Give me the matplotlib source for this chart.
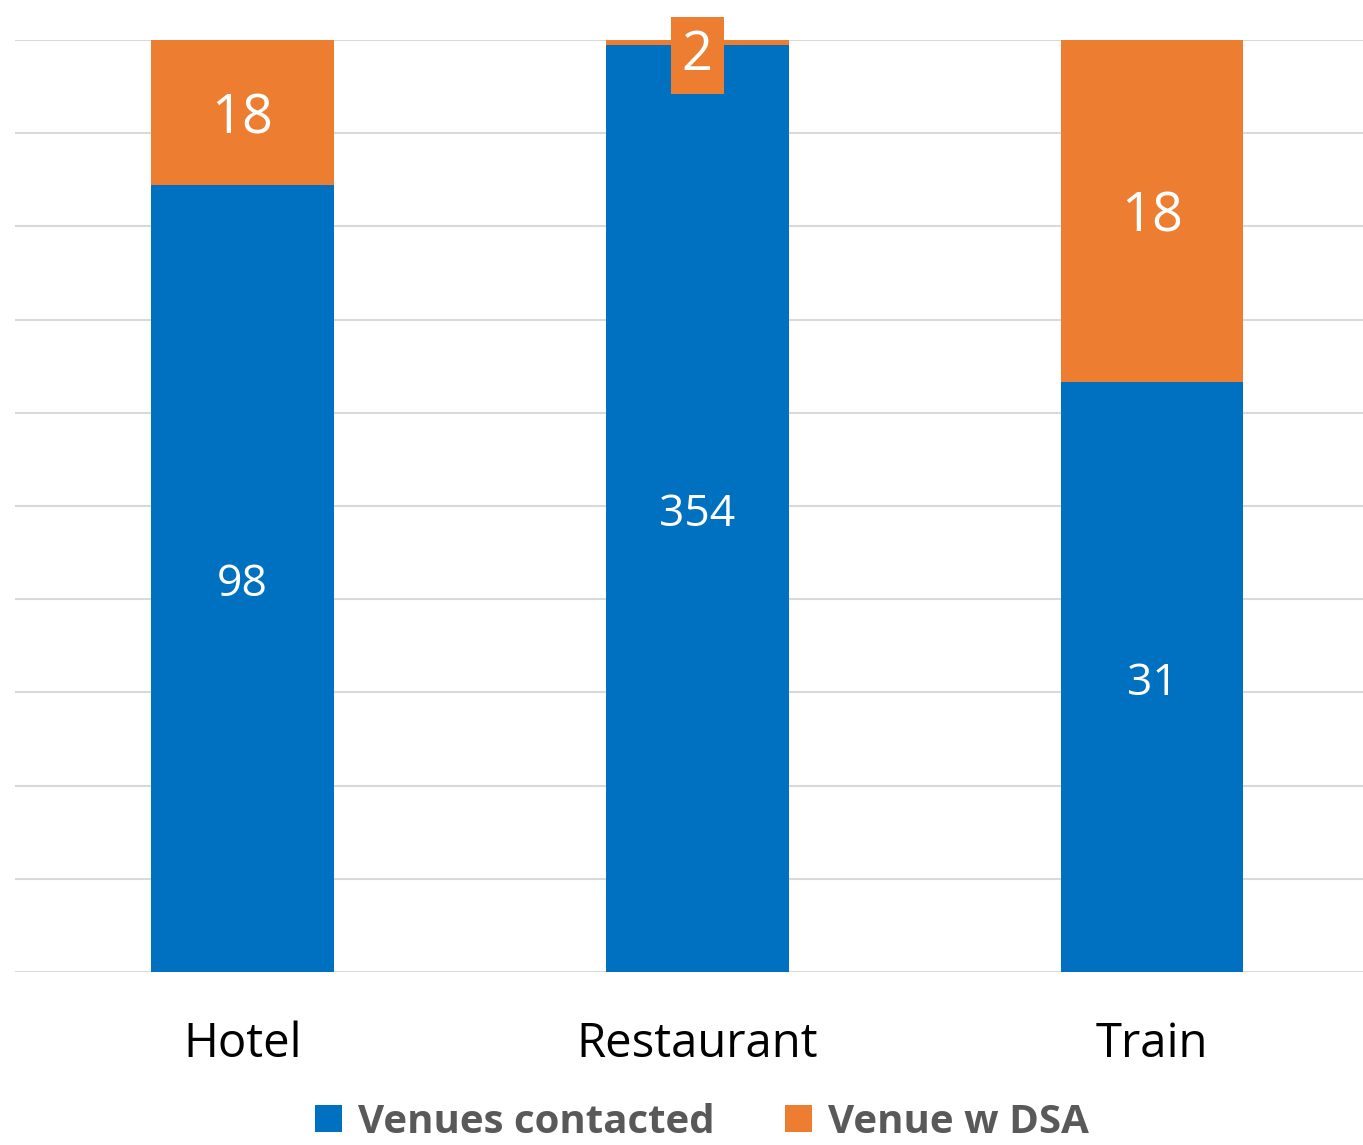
import matplotlib.pyplot as plt
import numpy as np

plt.rcParams["font.family"] = ["Open Sans", "DejaVu Sans"]

categories = ["Hotel", "Restaurant", "Train"]
contacted = [98, 354, 31]
with_dsa = [18, 2, 18]

blue = "#0070C0"
orange = "#ED7D31"

totals = np.array(contacted) + np.array(with_dsa)
share_contacted = np.array(contacted) / totals
share_dsa = np.array(with_dsa) / totals
x = np.arange(len(categories))

fig = plt.figure(figsize=(13.63, 11.45), dpi=100)
ax = fig.add_axes([0.011, 0.1511, 0.989, 0.814])

ax.bar(x, share_contacted, width=0.402, color=blue, label="Venues contacted", zorder=2)
ax.bar(x, share_dsa, width=0.402, bottom=share_contacted, color=orange,
       label="Venue w DSA", zorder=2)

for i in range(len(categories)):
    ax.annotate(str(contacted[i]), (x[i], share_contacted[i] / 2),
                xytext=(0, -4.5), textcoords="offset points", ha="center",
                va="center", color="white", fontsize=32, zorder=3)
    if share_dsa[i] > 0.05:
        ax.annotate(str(with_dsa[i]), (x[i], share_contacted[i] + share_dsa[i] / 2),
                    xytext=(0, -4.5), textcoords="offset points", ha="center",
                    va="center", color="white", fontsize=39, zorder=3)
    else:
        ax.text(x[i], 0.983, str(with_dsa[i]), ha="center", va="center",
                color="white", fontsize=39, zorder=3,
                bbox=dict(boxstyle="square,pad=0.2", facecolor=orange,
                          edgecolor="none"))

ax.set_xlim(-0.5, 2.464)
ax.set_ylim(0, 1)
ax.set_yticks(np.arange(0, 1.01, 0.1))
ax.set_yticklabels([])
ax.tick_params(axis="y", length=0)
ax.tick_params(axis="x", length=0, pad=35, labelsize=34)
ax.set_xticks(x)
ax.set_xticklabels(categories)
ax.grid(axis="y", color="#D9D9D9", linewidth=1.5, zorder=0)
for s in ax.spines.values():
    s.set_visible(False)

leg = fig.legend(loc="lower center", bbox_to_anchor=(0.515, -0.029), ncol=2,
                 frameon=False, handlelength=0.66, handleheight=0.66,
                 columnspacing=1.75, handletextpad=0.4,
                 prop={"size": 29, "weight": "bold"})
for t in leg.get_texts():
    t.set_color("#595959")

fig.savefig("out.png", dpi=100)
